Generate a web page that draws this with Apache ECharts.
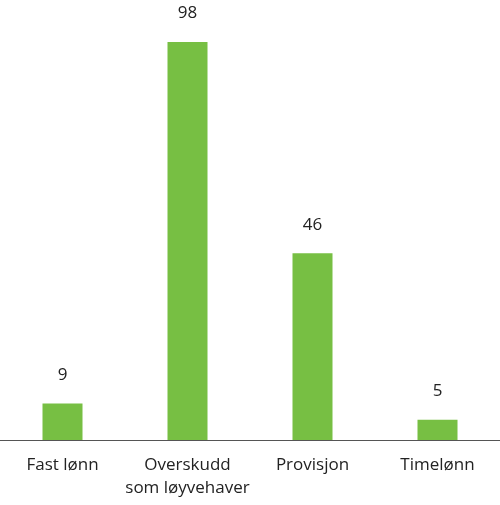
<!DOCTYPE html>
<html>
<head>
<meta charset="utf-8">
<script src="https://cdn.jsdelivr.net/npm/echarts@6/dist/echarts.min.js"></script>
<style>
  html, body { margin: 0; padding: 0; background: #fff; }
  #chart { width: 500px; height: 505px; }
</style>
</head>
<body>
<div id="chart"></div>
<script>
// kategorier og verdier
var categories = ['Fast lønn', 'Overskudd\nsom løyvehaver', 'Provisjon', 'Timelønn'];
var values = [9, 98, 46, 5];

var chart = echarts.init(document.getElementById('chart'));
chart.setOption({
    animation: false,
    grid: { left: 0, right: 0, top: 34, bottom: 65 },
    xAxis: {
        type: 'category',
        data: categories,
        axisLine: { lineStyle: { color: '#555', width: 1 } },
        axisTick: { show: false },
        axisLabel: {
            color: '#222',
            fontSize: 17,
            fontFamily: 'Open Sans',
            lineHeight: 23,
            margin: 14,
            interval: 0
        }
    },
    yAxis: {
        type: 'value',
        min: 0,
        max: 100,
        show: false,
        splitLine: { show: false }
    },
    series: [{
        type: 'bar',
        data: values,
        barWidth: 40,
        itemStyle: { color: '#77bf43' },
        label: {
            show: true,
            position: 'top',
            distance: 20,
            color: '#222',
            fontSize: 17,
            fontFamily: 'Open Sans'
        }
    }]
});
</script>
</body>
</html>
